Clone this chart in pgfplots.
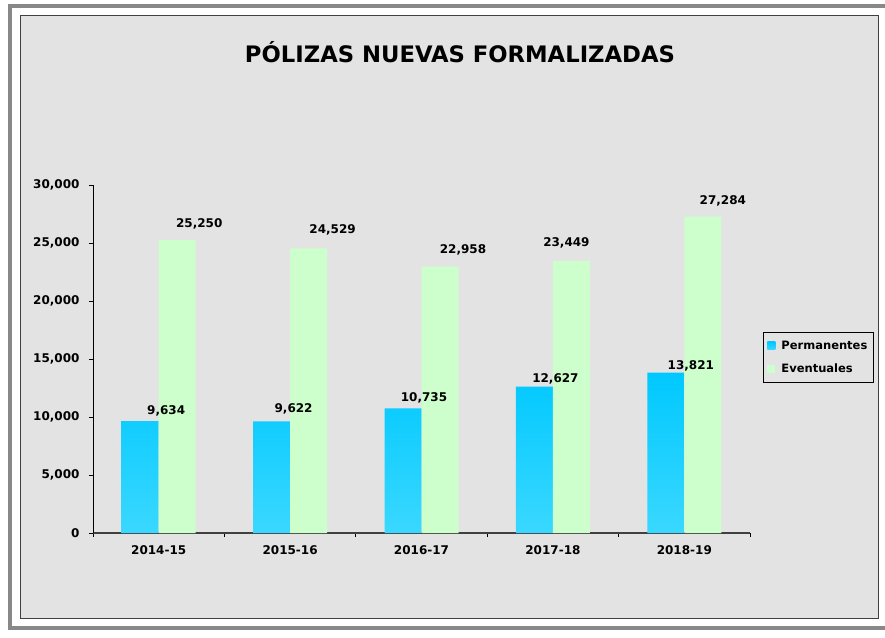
\documentclass[border=0pt]{standalone}
\usepackage{fontspec}
\setmainfont{DejaVu Sans}
\usepackage{pgfplots}
\usepackage{pgfplotstable}
\pgfplotsset{compat=1.18}
\definecolor{cyanTop}{HTML}{00C8FF}
\definecolor{cyanBot}{HTML}{3AD8FF}
\definecolor{greenBar}{HTML}{CCFFCC}
\definecolor{bgGray}{HTML}{E3E3E3}
\definecolor{frameGray}{HTML}{888888}
\definecolor{axisGray}{HTML}{404040}

\pgfplotstableread{
x y dx dy
0 9634 26 7
1 9622 22 9
2 10735 21 7
3 12627 21 4
4 13821 25 3
}\perm
\pgfplotstableread{
x y dx dy
0 25250 22 13
1 24529 24 15
2 22958 23 13
3 23449 -5 14
4 27284 20 12
}\even

\begin{document}
\begin{tikzpicture}
% page and frames
\fill[white] (0pt,0pt) rectangle (885pt,637pt);
\fill[frameGray] (8pt,7pt) rectangle (12pt,633pt);
\fill[frameGray] (8pt,629pt) rectangle (885pt,633pt);
\fill[frameGray] (8pt,7pt) rectangle (885pt,11pt);
\filldraw[fill=bgGray, draw=axisGray, line width=1pt] (20pt,19pt) rectangle (878pt,621pt);
\node[anchor=base, font=\bfseries\fontsize{22.7}{26}\selectfont] at (460pt,574pt) {PÓLIZAS NUEVAS FORMALIZADAS};

\begin{axis}[
  at={(93pt,104pt)}, anchor=south west,
  scale only axis, width=657pt, height=348pt,
  clip=false,
  ybar=0pt, bar width=37pt,
  xmin=-0.5, xmax=4.5, ymin=0, ymax=30000,
  axis x line*=bottom, axis y line*=left,
  x axis line style={draw=axisGray, line width=1.2pt, -},
  y axis line style={draw=black, line width=0.8pt, -},
  tick align=outside, major tick length=4pt,
  tick style={draw=black, line width=0.8pt},
  xtick={-0.5,0.5,...,4.5}, xticklabels={},
  extra x ticks={0,1,2,3,4},
  extra x tick labels={2014-15,2015-16,2016-17,2017-18,2018-19},
  extra x tick style={major tick length=0pt, xticklabel style={yshift=-9pt}},
  ytick={0,5000,...,30000},
  scaled y ticks=false,
  yticklabel style={xshift=-6pt},
  ticklabel style={font=\fontsize{12}{14}\selectfont\bfseries},
  /pgf/number format/.cd, fixed, precision=0, 1000 sep={,}, assume math mode=true,
  /pgfplots/.cd,
  legend style={at={(rel axis cs:1.0198,0.5776)}, anchor=north west,
    draw=black, fill=bgGray, line width=0.8pt,
    font=\fontsize{11.5}{13}\selectfont\bfseries,
    inner xsep=4pt, inner ysep=6.5pt, row sep=9pt},
  legend cell align=left,
  legend image code/.code={\path[#1,draw=none] (0pt,-4pt) rectangle (8pt,4pt); \path (0pt,0pt) -- (12pt,0pt);},
  nodes near coords,
  every node near coord/.append style={font=\fontsize{12}{14}\selectfont\bfseries, anchor=base, xshift=\dx pt, yshift=\dy pt},
  visualization depends on={\thisrow{dx}\as\dx},
  visualization depends on={\thisrow{dy}\as\dy},
]
\addplot[draw=none, top color=cyanTop, bottom color=cyanBot] table[x=x,y=y]{\perm};
\addlegendentry{Permanentes}
\addplot[draw=none, fill=greenBar] table[x=x,y=y]{\even};
\addlegendentry{Eventuales}
\end{axis}
\end{tikzpicture}
\end{document}
